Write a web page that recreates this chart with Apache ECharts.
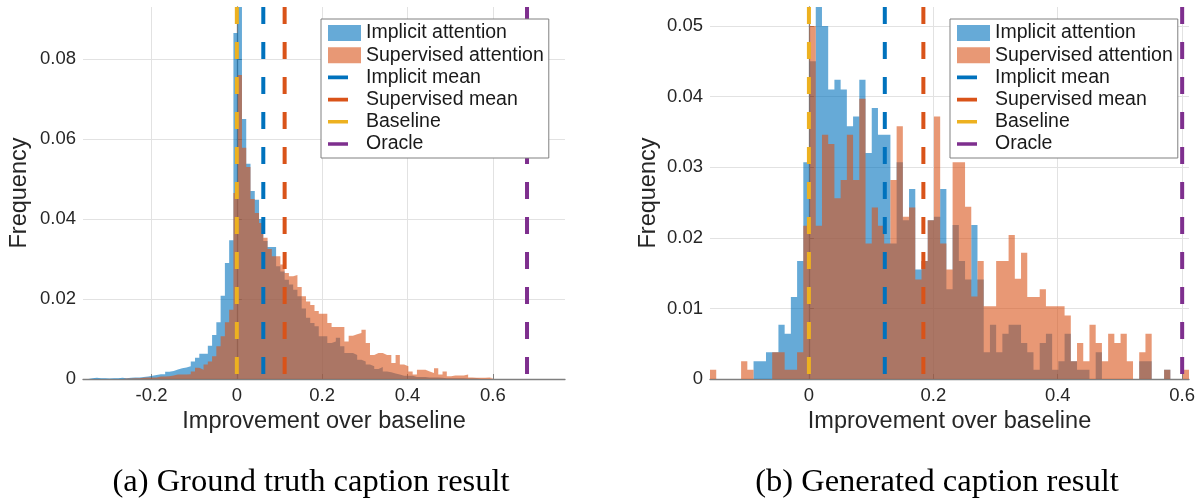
<!DOCTYPE html>
<html><head><meta charset="utf-8">
<script src="https://cdn.jsdelivr.net/npm/echarts@6/dist/echarts.min.js"></script>
<style>html,body{margin:0;padding:0;background:#fff}#c{width:1202px;height:502px}</style>
</head><body><div id="c"></div><script>
// ---- data ----
const binWidth = 0.01;
const leftBinStart = -0.358;
const rightBinStart = -0.159;
const leftImplicit = [0,0.0002,0.0003,0.0002,0.0002,0.0001,0.0002,0.0002,0.0003,0.0002,
  0.0003,0.0004,0.0004,0.0005,0.0006,0.0008,0.001,0.0012,0.0012,0.0018,
  0.002,0.0024,0.0027,0.0029,0.0032,0.0044,0.0053,0.0063,0.0063,0.0083,
  0.011,0.0142,0.0208,0.029,0.0347,0.0865,0.0935,0.065,0.0538,0.047,
  0.0448,0.040,0.0345,0.033,0.033,0.0282,0.0269,0.0248,0.0236,0.0223,
  0.0207,0.0176,0.0153,0.014,0.0132,0.0107,0.0107,0.009,0.0094,0.0103,
  0.0082,0.0065,0.0065,0.006,0.0048,0.0044,0.0036,0.0032,0.0025,0.003,
  0.0019,0.0017,0.0014,0.0011,0.0008,0.0008,0.0008,0.0005,0.0005,0.0005,
  0.0004,0.0004,0.0004,0.0003,0.0002,0.0002,0.0002,0.0002,0.0002,0.0001,
  0.0001,0.0001,0,0,0,0];
const leftSupervised = [0,0,0,0,0,0,0,0,0,0.0001,
  0.0001,0.0002,0.0002,0.0003,0.0004,0.0004,0.0004,0.0006,0.0006,0.0007,
  0.0009,0.0011,0.0011,0.0011,0.0012,0.0019,0.0028,0.0023,0.0036,0.0044,
  0.0057,0.0082,0.0107,0.0142,0.0173,0.0465,0.076,0.0578,0.053,0.045,
  0.0415,0.039,0.0353,0.0325,0.0307,0.0307,0.0286,0.0265,0.0257,0.026,
  0.023,0.0207,0.0194,0.0185,0.017,0.0163,0.0163,0.014,0.013,0.013,
  0.013,0.0094,0.0108,0.0112,0.0115,0.0123,0.009,0.006,0.0065,0.0065,
  0.006,0.006,0.004,0.006,0.0036,0.0032,0.0019,0.0011,0.0023,0.0023,
  0.0019,0.0015,0.0027,0.0011,0.0019,0.0007,0.0009,0.0009,0.0009,0.0011,
  0.0004,0.0003,0.0003,0.0003,0.0004,0.0002];
const rightImplicit = [0,0,0,0,0,0,0,0.0025,0.0025,0.0038,
  0.0038,0.0077,0.0064,0.0116,0.0167,0.0307,0.045,0.0535,0.05,0.041,
  0.0424,0.041,0.0358,0.0372,0.0424,0.032,0.0384,0.0346,0.0346,0.0192,
  0.0307,0.0225,0.0269,0.0155,0.0167,0.0225,0.023,0.0269,0.0127,0.0218,
  0.0167,0.0141,0.0218,0.0141,0.0038,0.0077,0.0038,0.0064,0.0077,0.0077,
  0.0051,0.0038,0.0013,0.0051,0.0064,0.0013,0.0025,0.0064,0.0025,0.0013,
  0.0013,0,0.0038,0,0,0,0,0,0,0.0025,
  0.0025,0,0,0.0013,0,0,0];
const rightSupervised = [0.0013,0,0,0,0,0.0025,0.0013,0,0,0,
  0.0038,0.0038,0.0013,0.0013,0.0038,0.0217,0.05,0.0217,0.0346,0.0333,
  0.0256,0.0282,0.0346,0.0282,0.0397,0.0192,0.0243,0.0217,0.0192,0.0282,
  0.0358,0.023,0.0243,0.0141,0.0167,0.0225,0.0372,0.0192,0.0155,0.0307,
  0.0307,0.0244,0.0117,0.0167,0.0103,0.0103,0.0167,0.0167,0.0204,0.0142,
  0.0179,0.0116,0.0116,0.0127,0.0103,0.0103,0.0103,0.009,0.0025,0.0051,
  0.0025,0.0077,0.0051,0.0025,0.0064,0.0051,0.0064,0.0025,0,0.0038,
  0.0064,0,0,0.0013,0,0,0.0013];
const markerNames = ['Implicit mean','Supervised mean','Baseline','Oracle'];
const leftMarkerX = [0.062, 0.112, 0, 0.68];
const rightMarkerX = [0.122, 0.184, 0, 0.6];
const histNames = ['Implicit attention','Supervised attention'];
const captions = ['(a) Ground truth caption result','(b) Generated caption result'];
const xName = 'Improvement over baseline';
const yName = 'Frequency';

// ---- styles ----
const FONT = '"Liberation Sans", Arial, Helvetica, sans-serif';
const histColors = ['#0072BD','#D95319'];
const histSwatch = ['rgba(0,114,189,0.6)','rgba(217,83,25,0.6)'];
const markerColors = ['#0072BD','#D95319','#EDB120','#7E2F8E'];
const lineIcon = 'path://M0,6.2L20,6.2L20,9.8L0,9.8Z M0,0L0.01,0L0,0.01Z M33,16L32.99,16L33,15.99Z';

function steps(start, vals){
  const d = vals.map((v,i)=>[+(start+i*binWidth).toFixed(4), v]);
  d.push([+(start+vals.length*binWidth).toFixed(4), 0]);
  return d;
}

const panels = [
  {grid:{left:83, top:7, width:482, height:372}, xmin:-0.3605, xmax:0.769, ymax:0.093,
   start:leftBinStart, hist:[leftImplicit,leftSupervised], markers:leftMarkerX,
   legend:{left:321, top:19}, cap:{x:311, y:482}, yGap:51},
  {grid:{left:710, top:7, width:479, height:372}, xmin:-0.159, xmax:0.611, ymax:0.0527,
   start:rightBinStart, hist:[rightImplicit,rightSupervised], markers:rightMarkerX,
   legend:{left:950, top:19}, cap:{x:937, y:482}, yGap:49}
];

const option = {
  animation:false,
  backgroundColor:'#fff',
  grid: panels.map(p=>p.grid),
  xAxis: panels.map((p,i)=>({
    gridIndex:i, type:'value', min:p.xmin, max:p.xmax, minInterval:0.2, maxInterval:0.2,
    name:xName, nameLocation:'middle', nameGap:28,
    nameTextStyle:{fontFamily:FONT, fontSize:23.5, color:'#262626'},
    axisLine:{lineStyle:{color:'#7f7f7f', width:1.3}},
    axisTick:{inside:true, length:5, lineStyle:{color:'#7f7f7f'}},
    axisLabel:{showMinLabel:false, showMaxLabel:false, fontFamily:FONT, fontSize:18.5, color:'#262626', margin:7},
    splitLine:{show:true, showMinLine:false, showMaxLine:false, lineStyle:{color:'#e2e2e2', width:1}}
  })),
  yAxis: panels.map((p,i)=>({
    gridIndex:i, type:'value', min:0, max:p.ymax, interval: i===0?0.02:0.01,
    name:yName, nameLocation:'middle', nameGap:p.yGap,
    nameTextStyle:{fontFamily:FONT, fontSize:23.5, color:'#262626'},
    axisLine:{show:true, lineStyle:{color:'#7f7f7f', width:1.3}},
    axisTick:{show:true, inside:true, length:5, lineStyle:{color:'#7f7f7f'}},
    axisLabel:{showMaxLabel:false, fontFamily:FONT, fontSize:18.5, color:'#262626', margin:7},
    splitLine:{show:true, showMinLine:false, showMaxLine:false, lineStyle:{color:'#e2e2e2', width:1}}
  })),
  legend: panels.map(p=>({
    orient:'vertical', left:p.legend.left, top:p.legend.top, selectedMode:false,
    backgroundColor:'#fff', borderColor:'#808080', borderWidth:1,
    padding:[4,5,4,7], itemGap:2.2, itemWidth:33, itemHeight:16,
    textStyle:{fontFamily:FONT, fontSize:19.5, color:'#1a1a1a'},
    itemStyle:{borderWidth:0},
    data:[
      {name:histNames[0], icon:'rect', itemStyle:{color:histSwatch[0], borderWidth:0}},
      {name:histNames[1], icon:'rect', itemStyle:{color:histSwatch[1], borderWidth:0}}
    ].concat(markerNames.map((n,j)=>({name:n, icon:lineIcon, itemStyle:{color:markerColors[j], borderWidth:0}})))
  })),
  graphic: panels.map((p,i)=>({
    type:'text', x:p.cap.x, y:p.cap.y, silent:true,
    style:{text:captions[i], align:'center', verticalAlign:'middle',
      font:'32.5px "Liberation Serif", "Times New Roman", serif', fill:'#000'}
  })),
  series: []
};

panels.forEach((p,i)=>{
  p.hist.forEach((vals,j)=>{
    option.series.push({
      type:'line', name:histNames[j], xAxisIndex:i, yAxisIndex:i,
      data:steps(p.start, vals), step:'end', symbol:'none', silent:true, clip:true,
      lineStyle:{width:0, opacity:0},
      itemStyle:{color:histColors[j]},
      areaStyle:{color:histColors[j], opacity:0.6}, z:2
    });
  });
  p.markers.forEach((x,j)=>{
    option.series.push({
      type:'line', name:markerNames[j], xAxisIndex:i, yAxisIndex:i,
      data:[[x,p.ymax],[x,0]], symbol:'none', silent:true,
      itemStyle:{color:markerColors[j]},
      lineStyle:{color:markerColors[j], width:4, type:[17,18], cap:'butt'}, z:3
    });
  });
});

const chart = echarts.init(document.getElementById('c'), null, {renderer:'canvas'});
chart.setOption(option);
</script></body></html>
